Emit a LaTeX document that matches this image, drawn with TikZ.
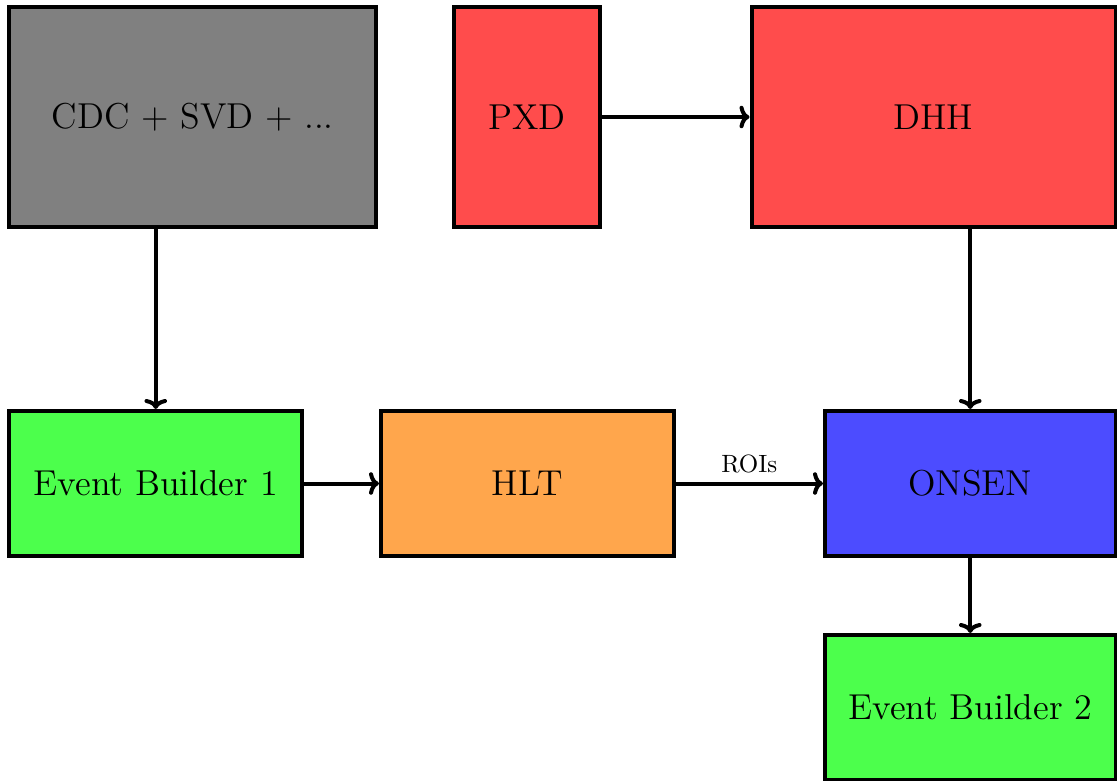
\documentclass[tikz,border=0pt]{standalone}
\usetikzlibrary{calc,arrows.meta}
\begin{document}
\begin{tikzpicture}[x=0.4pt,y=-0.4pt,
  block/.style={draw=black, line width=1.6pt, inner sep=0pt, font=\Large,
    minimum height=#1},
  block/.default=58pt,
  conn/.style={-{To[length=4pt,width=9pt,round]}, line width=1.6pt}]
\useasboundingbox (0,0) rectangle (1117,780);

% upper row: detectors and the DHH
\node[block=87.6pt, fill=gray, minimum width=146.6pt] (cdc) at (192.75,117) {CDC + SVD + ...};
\node[block=87.6pt, fill=red!70, minimum width=58.2pt] (pxd) at (526.75,117) {PXD};
\node[block=87.6pt, fill=red!70, minimum width=145.6pt] (dhh) at (933.5,117) {DHH};

% middle row: event building, trigger and ONSEN
\node[block, fill=green!70, minimum width=117pt] (eb1) at (155.75,483.5) {Event Builder 1};
\node[block, fill=orange!70, minimum width=117pt] (hlt) at (527.25,483.5) {HLT};
\node[block, fill=blue!70, minimum width=116.2pt] (onsen) at (970.25,483.5) {ONSEN};

% bottom: final event builder
\node[block, fill=green!70, minimum width=116.2pt] (eb2) at (970.25,707.5) {Event Builder 2};

% data flow
\draw[conn] (pxd) -- (dhh);
\draw[conn] (cdc.south -| eb1.north) -- (eb1.north);
\draw[conn] (dhh.south -| onsen.north) -- (onsen.north);
\draw[conn] (eb1) -- (hlt);
\draw[conn] (hlt) -- node[above] {ROIs} (onsen);
\draw[conn] (onsen) -- (eb2);
\end{tikzpicture}
\end{document}
